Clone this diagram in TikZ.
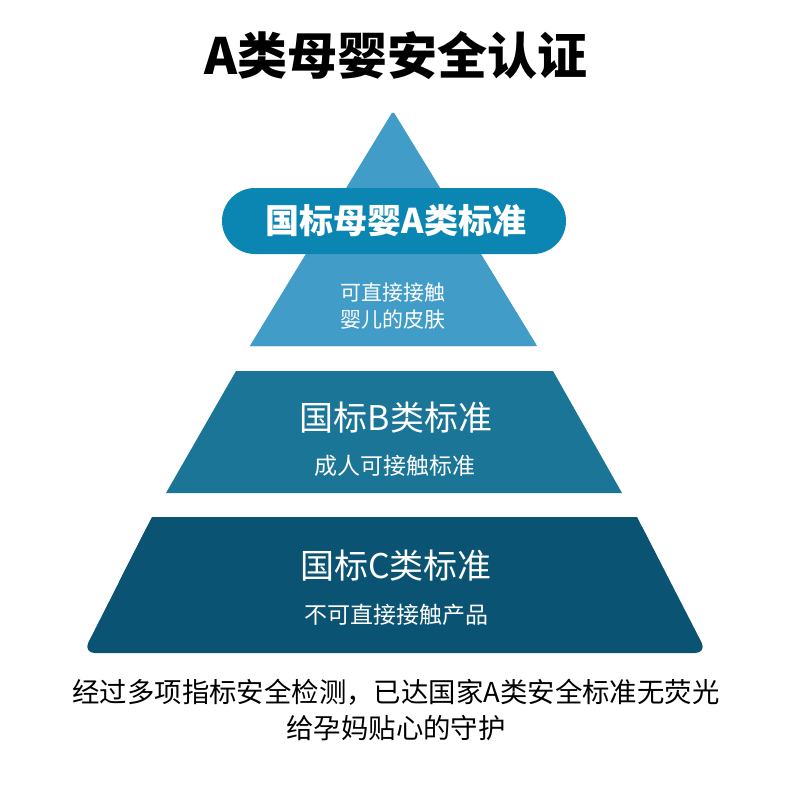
\documentclass[tikz,border=0pt]{standalone}
\usepackage{fontspec}
\newfontfamily\cjk{Noto Sans CJK SC}
\definecolor{triA}{HTML}{419CC8}
\definecolor{pillA}{HTML}{0B86B3}
\definecolor{midB}{HTML}{1A7596}
\definecolor{lowC}{HTML}{0A5372}
\tikzset{
  txt/.style={inner sep=0pt, anchor=center, text=white},
  lab/.style={txt, font=\cjk\fontsize{34}{40}\selectfont},
  sub/.style={txt, font=\cjk\fontsize{23}{28}\selectfont},
  note/.style={inner sep=0pt, font=\cjk\fontsize{27.4}{32}\selectfont},
}
\begin{document}
\begin{tikzpicture}[x=1pt,y=-1pt]
\useasboundingbox (0,0) rectangle (790,798);
\fill[white] (0,0) rectangle (790,798);
% title
\node[inner sep=0pt, font=\cjk\bfseries\fontsize{50}{56}\selectfont] (title) at (396,55) {A类母婴安全认证};
% top triangle
\fill[triA, rounded corners=3pt] (393,111) -- (537,346) [sharp corners] -- (250,346) [rounded corners=3pt] -- cycle;
\fill[triA] (250,346) -- (537,346) -- (470,236) -- (317,236) -- cycle;
% pill
\fill[pillA, rounded corners=33pt] (222,188) rectangle (566,254);
\node[txt, font=\cjk\bfseries\fontsize{34}{40}\selectfont] (pill) at (396,221) {国标母婴A类标准};
\node[txt, font=\cjk\fontsize{21}{26}\selectfont, align=center] (subA) at (393,306) {可直接接触\\[1pt]婴儿的皮肤};
% middle trapezoid
\fill[midB] (236,371) -- (553,371) -- (622,493) -- (166,493) -- cycle;
\node[lab] (labB) at (396,418) {国标B类标准};
\node[sub] (subB) at (395,466) {成人可接触标准};
% bottom trapezoid
\fill[lowC, rounded corners=12pt] (152,517) -- (637,517) -- (707,653) -- (83,653) -- cycle;
\fill[lowC] (152,517) -- (637,517) -- (670,582) -- (119,582) -- cycle;
\node[lab] (labC) at (396,566) {国标C类标准};
\node[sub] (subC) at (396,615) {不可直接接触产品};
% bottom text
\node[note] (note1) at (396,692) {经过多项指标安全检测，已达国家A类安全标准无荧光};
\node[note] (note2) at (396,728) {给孕妈贴心的守护};
\end{tikzpicture}
\end{document}
